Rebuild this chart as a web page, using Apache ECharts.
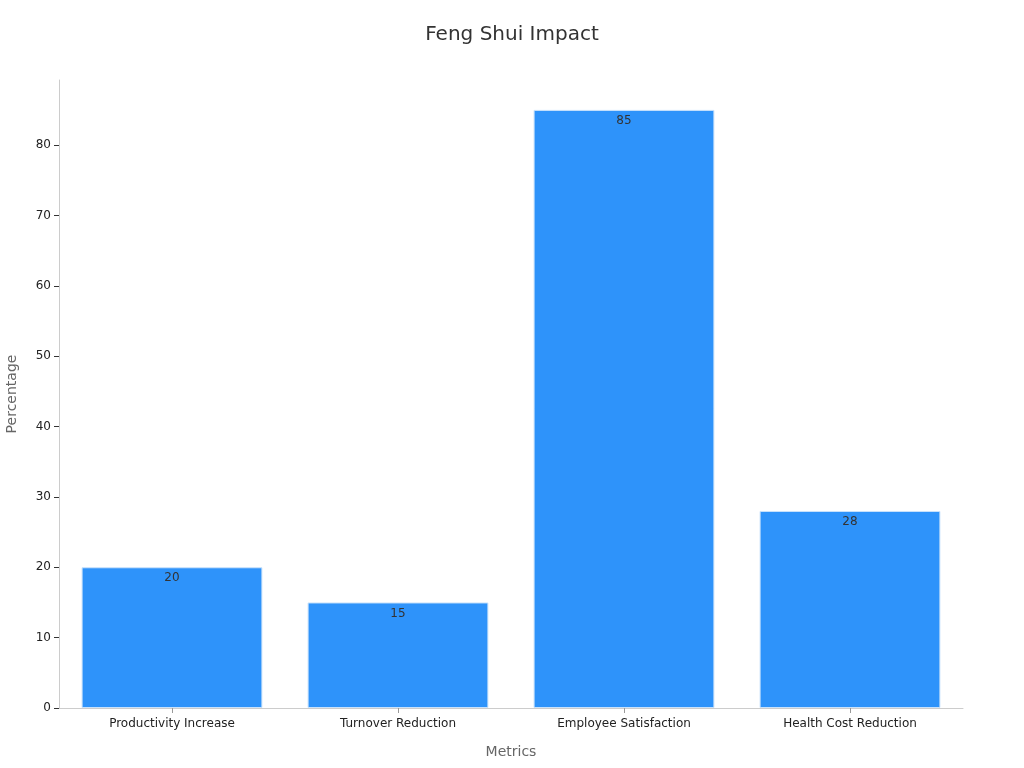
<!DOCTYPE html>
<html><head><meta charset="utf-8">
<script src="https://cdn.jsdelivr.net/npm/echarts@6/dist/echarts.min.js"></script>
<style>html,body{margin:0;padding:0;background:#fff}#c{width:1024px;height:768px}</style>
</head><body><div id="c"></div>
<script>
const categories = ["Productivity Increase", "Turnover Reduction", "Employee Satisfaction", "Health Cost Reduction"];
const values = [20, 15, 85, 28];
const yTicks = [0, 10, 20, 30, 40, 50, 60, 70, 80];

const chart = echarts.init(document.getElementById('c'));
chart.setOption({
  backgroundColor: '#fff',
  textStyle: { fontFamily: 'DejaVu Sans' },
  title: { text: 'Feng Shui Impact', left: 'center', top: 20,
    textStyle: { fontSize: 20, fontWeight: 'normal', color: '#333', fontFamily: 'DejaVu Sans' } },
  grid: { left: 59, right: 61, top: 80, bottom: 60, containLabel: false, outerBoundsMode: 'none' },
  xAxis: {
    type: 'category', data: categories,
    name: 'Metrics', nameLocation: 'middle', nameGap: 37,
    nameTextStyle: { fontSize: 14, color: '#666' },
    axisLine: { lineStyle: { color: '#ccc' } },
    axisTick: { show: true, alignWithLabel: true, length: 5, lineStyle: { color: '#999' } },
    axisLabel: { fontSize: 12, color: '#222', margin: 10 }
  },
  yAxis: {
    type: 'value', min: 0, max: 89.25, interval: 10,
    name: 'Percentage', nameLocation: 'middle', nameGap: 40,
    nameTextStyle: { fontSize: 14, color: '#666' },
    axisLine: { show: true, lineStyle: { color: '#ccc' } },
    axisTick: { show: true, customValues: yTicks, lineStyle: { color: '#333' } },
    axisLabel: { customValues: yTicks, fontSize: 12, color: '#222' },
    splitLine: { show: false }
  },
  series: [{
    type: 'bar', data: values, barWidth: '80%',
    itemStyle: { color: '#2E93FA', borderColor: '#c9e2fb', borderWidth: 1 },
    label: { show: true, position: 'insideTop', color: '#333', fontSize: 12, distance: 5 }
  }]
});
</script></body></html>
